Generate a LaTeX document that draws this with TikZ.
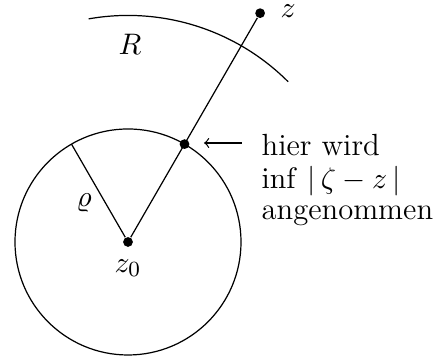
\documentclass[tikz,border=0pt]{standalone}
\begin{document}
\begin{tikzpicture}[x=0.369pt,y=-0.369pt,
  every node/.style={font=\fontsize{11.3}{13.6}\selectfont},
  dot/.style={circle,fill=black,inner sep=0pt,minimum size=3.6pt},
  txt/.style={inner sep=0pt,anchor=base west},
  line width=0.45pt]
\useasboundingbox (0,0) rectangle (444,356);
\node[dot] (z0) at (128,242) {};
\draw (z0) circle[radius=41.7pt];
\draw (z0) ++(45:83.6pt) arc[start angle=45,end angle=100,radius=83.6pt];
\path (z0) ++(60:41.7pt) node[dot] (p) {};
\path (z0) ++(60:97.5pt) node[dot] (z) {};
\path (z0) ++(120:41.7pt) coordinate (r);
\draw (z0) -- (z);
\draw (z0) -- (r);
\node[txt] (lz) at (280,18) {$z$};
\node[txt] (lR) at (118,55) {$R$};
\node (lrho) at (84,203) {$\varrho$};
\node (lz0) at (128,268) {$z_0$};
\node[txt] (t1) at (261,156) {hier wird};
\node[txt] (t2) at (261,189) {$\inf\,|\,\zeta-z\,|$};
\node[txt] (t3) at (261,220) {angenommen};
\coordinate (a1) at (242,143);
\coordinate (a2) at (204,143);
\draw[->] (a1) -- (a2);
\end{tikzpicture}
\end{document}
